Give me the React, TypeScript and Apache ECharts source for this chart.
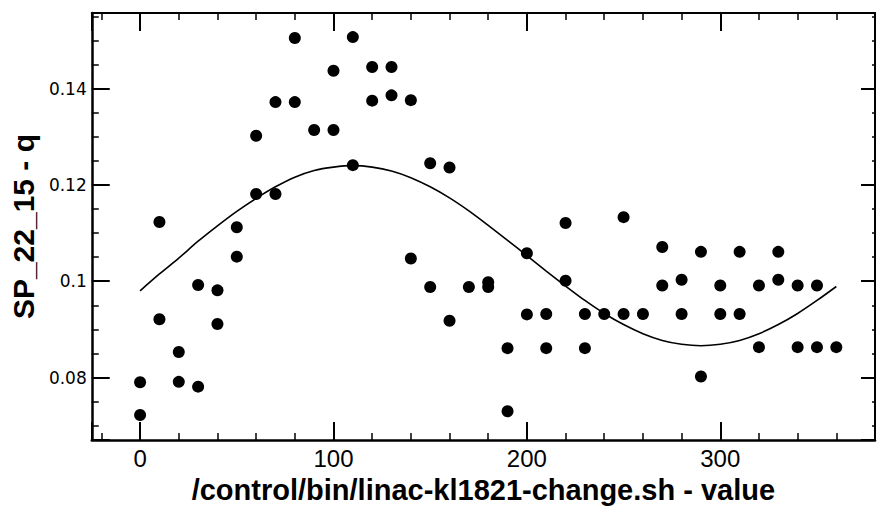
import React, { useEffect, useRef } from "react";
import * as echarts from "echarts";

// Measured points (x = script value, y = SP_22_15 - q)
const pointX = [
  0, 0, 10, 10, 20, 20, 30, 30, 40, 40, 50, 50, 60, 60, 70, 70, 80, 80, 90,
  100, 100, 110, 110, 120, 120, 130, 130, 140, 140, 150, 150, 160, 160, 170,
  180, 180, 190, 190, 200, 200, 210, 210, 220, 220, 230, 230, 240, 250, 250,
  260, 270, 270, 280, 280, 290, 290, 300, 300, 310, 310, 320, 320, 330, 330,
  340, 340, 350, 350, 360,
];
const pointY = [
  0.079, 0.0722, 0.1123, 0.0921, 0.0853, 0.0791, 0.0992, 0.0781, 0.0981, 0.0911,
  0.1112, 0.1051, 0.1302, 0.1181, 0.1372, 0.1181, 0.1505, 0.1372, 0.1314,
  0.1437, 0.1314, 0.1507, 0.1241, 0.1445, 0.1375, 0.1445, 0.1386, 0.1376, 0.1047,
  0.1245, 0.0988, 0.1236, 0.0918, 0.0988,
  0.0998, 0.0988, 0.0861, 0.073, 0.1058, 0.0931, 0.0932, 0.0861, 0.1121, 0.1001,
  0.0932, 0.0861, 0.0932, 0.1133, 0.0932,
  0.0932, 0.1071, 0.0991, 0.1003, 0.0932, 0.1061, 0.0802, 0.0991, 0.0932, 0.1061,
  0.0932, 0.0991, 0.0863, 0.1061, 0.1003,
  0.0991, 0.0863, 0.0991, 0.0863, 0.0863,
];

// Fitted curve
const fitX = [
  0, 10, 20, 30, 40, 50, 60, 70, 80, 90, 100, 110, 120, 130, 140, 150, 160, 170, 180,
  190, 200, 210, 220, 230, 240, 250, 260, 270, 280, 290, 300, 310, 320, 330, 340, 350, 360,
];
const fitY = [
  0.098, 0.1015, 0.1048, 0.1083, 0.1115, 0.1145, 0.1172, 0.1196, 0.1216, 0.123,
  0.1237, 0.124, 0.1237, 0.1229, 0.1215, 0.1196, 0.1173, 0.1146, 0.1116, 0.1085,
  0.1053, 0.1021, 0.099, 0.096, 0.0933, 0.091, 0.0891, 0.0877, 0.0869, 0.0866,
  0.0869, 0.0877, 0.0891, 0.091, 0.0933, 0.096, 0.0989,
];

const xTickLabels = [0, 100, 200, 300];
const yTickLabels = [0.08, 0.1, 0.12, 0.14];
const xTitle = "/control/bin/linac-kl1821-change.sh - value";
const yTitle = "SP_22_15 - q";

const X_MIN = -25;
const X_MAX = 380;
const Y_MIN = 0.067;
const Y_MAX = 0.1557;

export default function App() {
  const ref = useRef<HTMLDivElement>(null);

  useEffect(() => {
    if (!ref.current) return;
    const chart = echarts.init(ref.current, undefined, { renderer: "svg" });

    const black = "#000";
    const xBase = (pos: "bottom" | "top", lineW: number, major: number, minor: number) => ({
      type: "value",
      position: pos,
      min: X_MIN,
      max: X_MAX,
      splitNumber: 4,
      splitLine: { show: false },
      axisLine: { show: true, onZero: false, lineStyle: { color: black, width: lineW } },
      axisTick: { show: true, inside: true, length: major, lineStyle: { color: black, width: 2 } },
      minorTick: { show: true, splitNumber: 5, length: minor, lineStyle: { color: black, width: 1.5 } },
      minorSplitLine: { show: false },
    });
    const yBase = (pos: "left" | "right", lineW: number, major: number, minor: number) => ({
      type: "value",
      position: pos,
      min: Y_MIN,
      max: Y_MAX,
      splitNumber: 4,
      splitLine: { show: false },
      axisLine: { show: true, onZero: false, lineStyle: { color: black, width: lineW } },
      axisTick: { show: true, inside: true, length: major, lineStyle: { color: black, width: 2 } },
      minorTick: { show: true, splitNumber: 4, length: minor, lineStyle: { color: black, width: 1.5 } },
      minorSplitLine: { show: false },
    });

    chart.setOption({
      animation: false,
      backgroundColor: "#fff",
      grid: { left: 88, right: 2, top: 13, bottom: 61, containLabel: false },
      xAxis: [
        {
          ...xBase("bottom", 2.5, 18, 7),
          name: xTitle,
          nameLocation: "middle",
          nameGap: 25,
          nameTextStyle: {
            color: black,
            fontSize: 29,
            fontWeight: "bold",
            fontFamily: "Liberation Sans, Arial, sans-serif",
          },
          axisLabel: {
            show: true,
            margin: 6,
            color: black,
            fontSize: 24,
            fontFamily: "Liberation Sans, Arial, sans-serif",
            showMinLabel: false,
            showMaxLabel: false,
            formatter: (v: number) =>
              xTickLabels.some((t) => Math.abs(t - v) < 1e-6) ? String(v) : "",
          },
        },
        {
          ...xBase("top", 2, 18, 7),
          axisLabel: { show: false },
        },
      ],
      yAxis: [
        {
          ...yBase("left", 2.5, 18, 7),
          name: yTitle,
          nameLocation: "middle",
          nameGap: 45,
          nameTextStyle: {
            color: black,
            fontSize: 30,
            fontWeight: "bold",
            fontFamily: "Liberation Sans, Arial, sans-serif",
          },
          axisLabel: {
            show: true,
            margin: 5,
            color: black,
            fontSize: 17,
            fontFamily: "DejaVu Sans, sans-serif",
            showMinLabel: false,
            showMaxLabel: false,
            formatter: (v: number) => {
              const t = yTickLabels.find((t) => Math.abs(t - v) < 1e-9);
              return t === undefined ? "" : String(t);
            },
          },
        },
        {
          ...yBase("right", 2, 14, 3),
          axisLabel: { show: false },
        },
      ],
      series: [
        {
          type: "line",
          xAxisIndex: 0,
          yAxisIndex: 0,
          data: fitX.map((x, i) => [x, fitY[i]]),
          smooth: 0.3,
          symbol: "none",
          lineStyle: { color: black, width: 1.6 },
          z: 2,
        },
        {
          type: "scatter",
          xAxisIndex: 0,
          yAxisIndex: 0,
          data: pointX.map((x, i) => [x, pointY[i]]),
          symbol: "circle",
          symbolSize: 12,
          itemStyle: { color: black, opacity: 1 },
          z: 3,
        },
      ],
    });

    return () => chart.dispose();
  }, []);

  return (
    <div
      ref={ref}
      style={{ position: "fixed", left: 0, top: 0, width: 877, height: 509, background: "#fff" }}
    />
  );
}
